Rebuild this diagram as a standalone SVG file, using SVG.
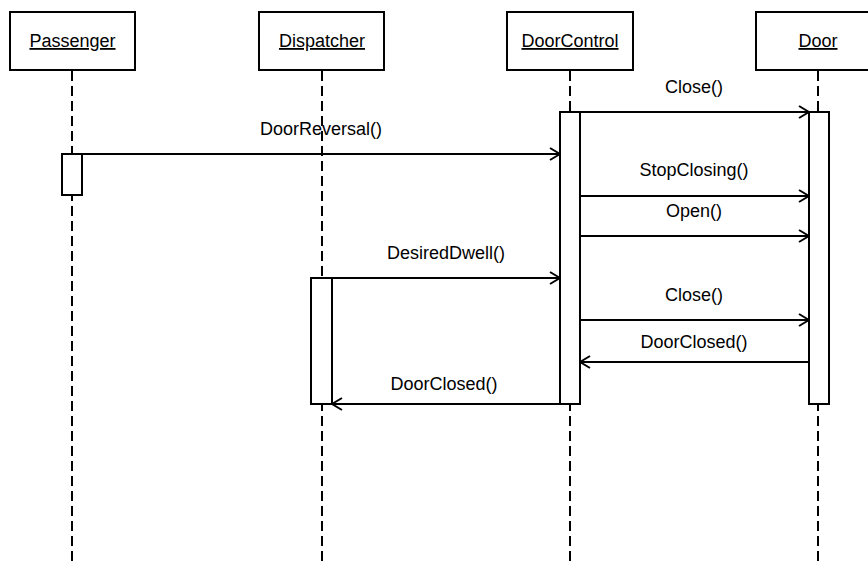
<svg xmlns="http://www.w3.org/2000/svg" width="868" height="570" viewBox="0 0 868 570">
  <style>
    .box { fill: #ffffff; stroke: #000000; stroke-width: 2; }
    .life { stroke: #000000; stroke-width: 2; stroke-dasharray: 10 5; fill: none; }
    .act { fill: #ffffff; stroke: #000000; stroke-width: 2; }
    .msg { stroke: #000000; stroke-width: 2; fill: none; }
    .name { font-family: "Liberation Sans", Arial, sans-serif; font-size: 18px; text-anchor: middle; text-decoration: underline; fill: #000000; }
    .lbl { font-family: "Liberation Sans", Arial, sans-serif; font-size: 18px; text-anchor: middle; fill: #000000; }
  </style>
  <defs>
    <marker id="open" viewBox="0 0 12 14" refX="11" refY="7" markerWidth="12" markerHeight="14" markerUnits="userSpaceOnUse" orient="auto">
      <path d="M1,1 L11,7 L1,13" fill="none" stroke="#000000" stroke-width="2"/>
    </marker>
  </defs>
  <rect width="868" height="570" fill="#ffffff"/>

  <!-- lifelines -->
  <g id="lifelines">
    <line class="life" x1="72" y1="71" x2="72" y2="566"/>
    <line class="life" x1="322" y1="71" x2="322" y2="566"/>
    <line class="life" x1="570" y1="71" x2="570" y2="566"/>
    <line class="life" x1="818" y1="71" x2="818" y2="566"/>
  </g>

  <!-- participants -->
  <g id="passenger">
    <rect class="box" x="10" y="12" width="125" height="58"/>
    <text class="name" x="72.5" y="47">Passenger</text>
    <rect class="act" x="62" y="154" width="20" height="41"/>
  </g>
  <g id="dispatcher">
    <rect class="box" x="259" y="12" width="125" height="58"/>
    <text class="name" x="322" y="47">Dispatcher</text>
    <rect class="act" x="311" y="278" width="21" height="126"/>
  </g>
  <g id="doorcontrol">
    <rect class="box" x="507" y="12" width="126" height="58"/>
    <text class="name" x="570" y="47">DoorControl</text>
    <rect class="act" x="560" y="112" width="20" height="292"/>
  </g>
  <g id="door">
    <rect class="box" x="756" y="12" width="126" height="58"/>
    <text class="name" x="818" y="47">Door</text>
    <rect class="act" x="809" y="112" width="20" height="292"/>
  </g>

  <!-- messages -->
  <g id="connectors">
    <line class="msg" x1="580" y1="112" x2="809" y2="112" marker-end="url(#open)"/>
    <text class="lbl" x="694" y="93">Close()</text>

    <line class="msg" x1="82" y1="154" x2="560" y2="154" marker-end="url(#open)"/>
    <text class="lbl" x="321" y="135">DoorReversal()</text>

    <line class="msg" x1="580" y1="196" x2="809" y2="196" marker-end="url(#open)"/>
    <text class="lbl" x="694" y="176">StopClosing()</text>

    <line class="msg" x1="580" y1="236" x2="809" y2="236" marker-end="url(#open)"/>
    <text class="lbl" x="694" y="217">Open()</text>

    <line class="msg" x1="332" y1="278" x2="560" y2="278" marker-end="url(#open)"/>
    <text class="lbl" x="446" y="259">DesiredDwell()</text>

    <line class="msg" x1="580" y1="320" x2="809" y2="320" marker-end="url(#open)"/>
    <text class="lbl" x="694" y="301">Close()</text>

    <line class="msg" x1="809" y1="362" x2="580" y2="362" marker-end="url(#open)"/>
    <text class="lbl" x="694" y="348">DoorClosed()</text>

    <line class="msg" x1="560" y1="404" x2="332" y2="404" marker-end="url(#open)"/>
    <text class="lbl" x="444" y="390">DoorClosed()</text>
  </g>
</svg>
